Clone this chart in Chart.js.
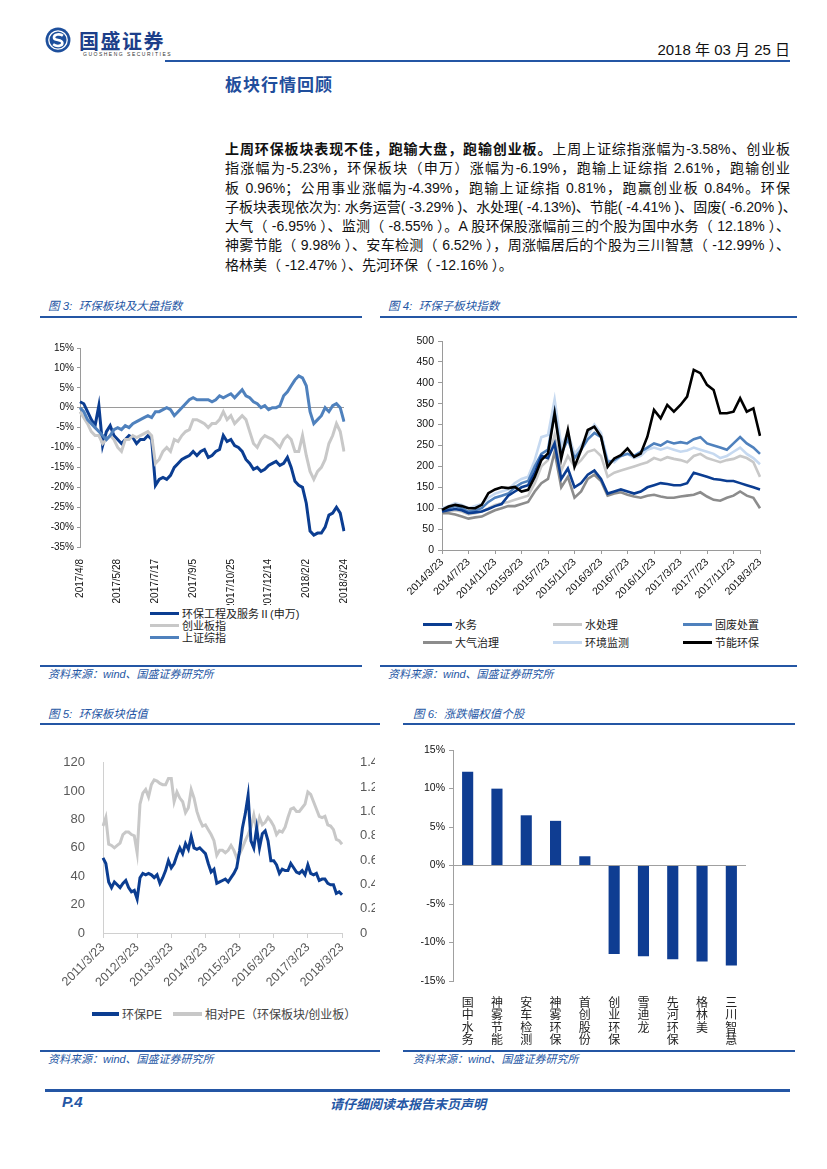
<!DOCTYPE html>
<html>
<head>
<meta charset="utf-8">
<script src="https://cdn.jsdelivr.net/npm/chart.js@4/dist/chart.umd.min.js"></script>
<style>
  body { margin: 0; background: #fff; font-family: "Liberation Sans", "Noto Sans CJK SC", sans-serif; }
  #page { position: relative; width: 827px; height: 1169px; overflow: hidden; }
  .abs { position: absolute; }
  .rule { position: absolute; height: 2px; background: #2456a4; }
  .cap { position: absolute; font-size: 11.5px; font-style: italic; color: #2456a4; white-space: nowrap; }
  .src { position: absolute; font-size: 11px; font-style: italic; color: #2456a4; white-space: nowrap; }
  .para { position: absolute; left: 225px; top: 140px; width: 565px; font-size: 14px; line-height: 19.3px; color: #111; }
  .para div { text-align: justify; text-align-last: justify; white-space: nowrap; }
  .para div.last { text-align-last: left; }
  .lg { position: absolute; font-size: 11px; color: #222; white-space: nowrap; display: flex; align-items: center; }
  .lg i { display: inline-block; width: 29px; height: 3px; margin-right: 3px; }
  .box { position: absolute; }
</style>
</head>
<body>
<div id="page">
  <!-- header -->
  <svg class="abs" style="left:45px;top:27px" width="26" height="26" viewBox="0 0 24 24">
    <circle cx="12" cy="12" r="11.5" fill="#1d4f9c"/>
    <circle cx="12" cy="12" r="8.5" fill="none" stroke="#fff" stroke-width="1.2"/>
    <path d="M16.5 8 C14 6 8 6.5 8.3 10 C8.6 13 15.6 11 16 14.5 C16.4 18 10.5 18.3 7.5 16" stroke="#fff" stroke-width="2.4" fill="none"/>
  </svg>
  <div class="abs" style="left:79px;top:26px;font-size:20px;font-weight:bold;color:#1d3f8a;letter-spacing:1.5px">国盛证券</div>
  <div class="abs" style="left:83px;top:51px;font-size:5px;color:#333;letter-spacing:1.5px">GUOSHENG SECURITIES</div>
  <div class="abs" style="right:37px;top:38px;font-size:15px;color:#111">2018 年 03 月 25 日</div>
  <div class="rule" style="left:165px;top:60px;width:625px"></div>
  <div class="abs" style="left:225px;top:71px;font-size:17px;font-weight:bold;color:#1f4e9c;letter-spacing:1px">板块行情回顾</div>

  <div class="para">
    <div><b>上周环保板块表现不佳，跑输大盘，跑输创业板。</b>上周上证综指涨幅为-3.58%、创业板</div>
    <div>指涨幅为-5.23%，环保板块（申万）涨幅为-6.19%，跑输上证综指 2.61%，跑输创业</div>
    <div>板 0.96%；公用事业涨幅为-4.39%，跑输上证综指 0.81%，跑赢创业板 0.84%。环保</div>
    <div>子板块表现依次为: 水务运营( -3.29% )、水处理( -4.13%)、节能( -4.41% )、固废( -6.20% )、</div>
    <div>大气（ -6.95% ）、监测（ -8.55% ）。A 股环保股涨幅前三的个股为国中水务（ 12.18% ）、</div>
    <div>神雾节能（ 9.98% ）、安车检测（ 6.52% ），周涨幅居后的个股为三川智慧（ -12.99% ）、</div>
    <div class="last">格林美（ -12.47% ）、先河环保（ -12.16% ）。</div>
  </div>

  <!-- fig 3 / fig 4 -->
  <div class="cap" style="left:48px;top:297px">图 3:&nbsp; 环保板块及大盘指数</div>
  <div class="rule" style="left:40px;top:316px;width:322px"></div>
  <div class="cap" style="left:388px;top:297px">图 4:&nbsp; 环保子板块指数</div>
  <div class="rule" style="left:380px;top:316px;width:417px"></div>

  <div class="box" style="left:40px;top:335px;width:320px;height:270px"><canvas id="c3"></canvas></div>
  <div class="box" style="left:385px;top:328px;width:395px;height:275px"><canvas id="c4"></canvas></div>

  <div class="lg" style="left:150px;top:605px"><i style="background:#0b3d91"></i>环保工程及服务Ⅱ(申万)</div>
  <div class="lg" style="left:150px;top:617px"><i style="background:#c8c8c8"></i>创业板指</div>
  <div class="lg" style="left:150px;top:629px"><i style="background:#4f81bd"></i>上证综指</div>

  <div class="lg" style="left:423px;top:616px"><i style="background:#0b3d91"></i>水务</div>
  <div class="lg" style="left:553px;top:616px"><i style="background:#c8c8c8"></i>水处理</div>
  <div class="lg" style="left:683px;top:616px"><i style="background:#4f81bd"></i>固废处置</div>
  <div class="lg" style="left:423px;top:634px"><i style="background:#8c8c8c"></i>大气治理</div>
  <div class="lg" style="left:553px;top:634px"><i style="background:#c6d9f0"></i>环境监测</div>
  <div class="lg" style="left:683px;top:634px"><i style="background:#000"></i>节能环保</div>

  <div class="rule" style="left:40px;top:665px;width:322px"></div>
  <div class="src" style="left:48px;top:665px">资料来源：wind、国盛证券研究所</div>
  <div class="rule" style="left:380px;top:665px;width:417px"></div>
  <div class="src" style="left:388px;top:665px">资料来源：wind、国盛证券研究所</div>

  <!-- fig 5 / fig 6 -->
  <div class="cap" style="left:48px;top:705px">图 5:&nbsp; 环保板块估值</div>
  <div class="rule" style="left:40px;top:723px;width:340px"></div>
  <div class="cap" style="left:413px;top:705px">图 6:&nbsp; 涨跌幅权值个股</div>
  <div class="rule" style="left:403px;top:723px;width:392px"></div>

  <div class="box" style="left:45px;top:745px;width:330px;height:255px"><canvas id="c5"></canvas></div>
  <div class="box" style="left:400px;top:735px;width:370px;height:310px"><canvas id="c6"></canvas></div>

  <div class="lg" style="left:92px;top:1005px;font-size:12px;color:#444"><i style="background:#0b3d91;width:27px;height:4px"></i>环保PE</div>
  <div class="lg" style="left:173px;top:1005px;font-size:12px;color:#444"><i style="background:#c8c8c8;width:29px;height:4px"></i>相对PE（环保板块/创业板）</div>

  <div class="rule" style="left:40px;top:1050px;width:340px"></div>
  <div class="src" style="left:48px;top:1050px">资料来源：wind、国盛证券研究所</div>
  <div class="rule" style="left:403px;top:1050px;width:392px"></div>
  <div class="src" style="left:413px;top:1050px">资料来源：wind、国盛证券研究所</div>

  <!-- footer -->
  <div class="rule" style="left:45px;top:1089px;width:745px;height:3px"></div>
  <div class="abs" style="left:62px;top:1093px;font-size:15px;font-weight:bold;font-style:italic;color:#2456a4">P.4</div>
  <div class="abs" style="left:330px;top:1094px;font-size:13px;font-weight:bold;font-style:italic;color:#2456a4">请仔细阅读本报告末页声明</div>
</div>

<script>
// ---- 图3 环保板块及大盘指数 (every ~5 days, 2017/4/8 - 2018/3/24)
const fig3Ticks = ['2017/4/8', '2017/5/28', '2017/7/17', '2017/9/5', '2017/10/25', '2017/12/14', '2018/2/2', '2018/3/24'];
const fig3Env = [1.5, 1, -1, -3, -4.5, 0.5, -9.5, -6, -4.5, -7, -8, -9, -8, -7, -7.5, -9, -8, -8, -7, -8,
  -19.5, -18, -17.5, -18, -17, -15, -14, -13, -12.5, -12, -11, -12, -11, -10.5, -12.5, -12, -11, -10.5, -7, -8.5,
  -8, -9.5, -10, -11, -13, -14, -15.5, -15, -16, -15.5, -14.5, -14, -13.5, -14.5, -14, -12.5, -15, -18.5, -19.5, -20,
  -24, -31, -32, -31.5, -31.5, -30, -27, -26.5, -25, -26.5, -31];
const fig3Cyb = [-1, -2.5, -4, -6, -7, -7, -9, -8, -7, -8, -10, -11, -8, -8, -7, -7.5, -7, -6.5, -6, -7,
  -14, -13, -11, -10, -11, -8, -8.5, -7, -6, -5.5, -3, -3, -3.5, -4, -5, -4, -4, -3, -1, -3,
  -2, -4, -3, -2, -3, -6, -9, -10, -8, -7, -7.5, -8, -9, -10, -8, -7, -8, -11, -11, -7,
  -12, -16, -18, -16, -15, -13, -9, -7, -4, -6, -11];
const fig3Sh = [0, -1, -3, -4, -5, -6, -7, -8, -7, -5.5, -5, -5.5, -4.5, -5, -4, -3.5, -3, -2.5, -2, -2.5,
  -1, -1, -0.5, 0, -0.5, -2, -1, 0, 1, 2, 2.5, 2, 2, 2, 2, 1.5, 2, 3, 2.5, 3,
  3.5, 2.5, 3.5, 4.5, 3, 2.5, 1.5, 1, 0, 0.5, -0.5, 0, 0, 0.5, 3, 4, 5.5, 7, 8, 7.5,
  5.5, -1, -4, -3, -2, 0, -1, 0.5, 1, 0, -3.5];

// ---- 图4 环保子板块指数 (monthly, 2014/3/23 - 2018/3/23)
const fig4Ticks = ['2014/3/23', '2014/7/23', '2014/11/23', '2015/3/23', '2015/7/23', '2015/11/23', '2016/3/23',
  '2016/7/23', '2016/11/23', '2017/3/23', '2017/7/23', '2017/11/23', '2018/3/23'];
const shuiwu = [92, 95, 98, 95, 88, 90, 92, 98, 105, 110, 130, 140, 150, 155, 185, 225, 220, 255, 170, 195, 150, 160, 180, 190, 170,
  135, 140, 145, 140, 135, 140, 150, 155, 160, 158, 155, 155, 160, 185, 180, 175, 170, 168, 165, 165, 160, 155, 150, 145];
const shuichuli = [90, 92, 95, 92, 85, 88, 92, 100, 108, 112, 115, 120, 125, 130, 160, 200, 215, 275, 190, 225, 200, 215, 235, 240, 225,
  175, 185, 190, 195, 200, 205, 210, 220, 215, 222, 218, 215, 210, 225, 230, 220, 215, 210, 215, 218, 225, 220, 210, 175];
const gufei = [95, 100, 105, 100, 92, 95, 100, 115, 125, 130, 135, 150, 160, 165, 200, 230, 240, 330, 230, 265, 220, 240, 265, 280, 270,
  210, 215, 225, 230, 225, 235, 245, 255, 250, 260, 255, 258, 255, 265, 270, 255, 250, 245, 240, 255, 270, 255, 245, 230];
const daqi = [88, 88, 85, 80, 75, 78, 80, 88, 95, 100, 105, 105, 110, 115, 140, 160, 170, 235, 150, 175, 125, 140, 170, 180, 165,
  130, 135, 138, 132, 128, 125, 130, 132, 128, 125, 125, 128, 130, 132, 138, 128, 120, 118, 125, 130, 140, 130, 125, 100];
const jiance = [100, 105, 112, 108, 100, 105, 110, 125, 135, 140, 145, 160, 170, 175, 215, 270, 275, 360, 250, 280, 230, 250, 275, 300, 280,
  215, 210, 225, 230, 220, 225, 240, 245, 240, 245, 240, 235, 238, 245, 240, 235, 230, 220, 225, 235, 245, 230, 220, 205];
const jieneng = [96, 104, 108, 105, 100, 100, 108, 136, 145, 150, 148, 151, 140, 144, 175, 215, 231, 327, 219, 287, 199, 239, 287, 295, 271,
  199, 219, 227, 243, 223, 231, 271, 335, 315, 347, 331, 347, 367, 431, 423, 395, 383, 327, 327, 331, 363, 331, 339, 273];

// ---- 图5 环保板块估值 (monthly, 2011/3/23 - 2018/3/23)
const fig5Ticks = ['2011/3/23', '2012/3/23', '2013/3/23', '2014/3/23', '2015/3/23', '2016/3/23', '2017/3/23', '2018/3/23'];
const envPE = [53, 49, 36, 32, 36, 34, 32, 35, 37, 32, 29, 30, 24, 39, 42, 41, 42, 41, 39, 41, 35, 39, 44, 51,
  46, 49, 55, 60, 56, 63, 59, 68, 60, 59, 60, 58, 56, 49, 43, 45, 35, 36, 37, 38, 36, 39, 42, 46,
  58, 74, 84, 97, 65, 60, 74, 60, 70, 72, 65, 51, 51, 48, 42, 45, 44, 44, 49, 46, 43, 42, 44, 41,
  48, 42, 41, 42, 37, 38, 38, 35, 34, 34, 28, 29, 27];
const relPE = [0.88, 0.95, 0.73, 0.72, 0.70, 0.72, 0.74, 0.81, 0.83, 0.83, 0.81, 0.80, 0.66, 1.06, 1.15, 1.18, 1.12, 1.22, 1.26, 1.25, 1.23, 1.22, 1.22, 1.27,
  1.27, 1.08, 1.16, 1.11, 1.08, 0.99, 1.03, 1.18, 1.11, 1.00, 0.93, 0.88, 0.89, 0.85, 0.81, 0.76, 0.64, 0.68, 0.68, 0.66, 0.68, 0.72, 0.68, 0.62,
  0.65, 0.70, 0.76, 0.81, 0.87, 0.97, 0.85, 0.95, 0.89, 0.91, 0.95, 0.92, 0.88, 0.81, 0.84, 0.83, 0.87, 0.95, 1.02, 1.03, 1.00, 1.00, 1.03, 1.06,
  1.16, 1.14, 1.08, 1.02, 0.96, 0.95, 0.96, 0.89, 0.88, 0.85, 0.77, 0.76, 0.73];

// ---- 图6 涨跌幅权值个股
const stocks = ['国中水务', '神雾节能', '安车检测', '神雾环保', '首创股份', '创业环保', '雪迪龙', '先河环保', '格林美', '三川智慧'];
const stockChg = [12.18, 9.98, 6.52, 5.8, 1.2, -11.5, -11.8, -12.16, -12.47, -12.99];

Chart.defaults.font.family = '"Liberation Sans", "Noto Sans CJK SC", sans-serif';
Chart.defaults.color = '#111';
Chart.defaults.animation = false;

const idx = n => Array.from({ length: n }, (_, i) => i);
const lineDs = (label, data, color, width, yAxisID) => ({
  label, data, borderColor: color, backgroundColor: color, borderWidth: width,
  pointRadius: 0, tension: 0, fill: false, yAxisID: yAxisID || 'y'
});
const noLegend = { legend: { display: false }, tooltip: { enabled: false } };

// fig 3
new Chart(document.getElementById('c3'), {
  type: 'line',
  data: {
    labels: idx(fig3Env.length),
    datasets: [
      lineDs('上证综指', fig3Sh, '#4f81bd', 3),
      lineDs('创业板指', fig3Cyb, '#c8c8c8', 3),
      lineDs('环保工程及服务Ⅱ(申万)', fig3Env, '#0b3d91', 3)
    ]
  },
  options: {
    responsive: true, maintainAspectRatio: false,
    layout: { padding: { top: 13, right: 16, left: 0, bottom: 0 } },
    plugins: noLegend,
    scales: {
      x: {
        grid: { display: false }, border: { display: false },
        ticks: {
          autoSkip: false, maxRotation: 90, minRotation: 90, font: { size: 10 }, padding: 4,
          callback: (v, i) => i % 10 === 0 ? fig3Ticks[i / 10] : null
        },
        afterFit: s => { s.height = 58 }
      },
      y: {
        min: -35, max: 15,
        ticks: { stepSize: 5, font: { size: 10 }, callback: v => v + '%', padding: 3 },
        grid: {
          color: c => c.tick && c.tick.value === 0 ? '#9a9a9a' : 'transparent',
          tickColor: '#9a9a9a', tickLength: 3, lineWidth: 1
        },
        border: { display: true, color: '#9a9a9a' },
        afterFit: s => { s.width = 40 }
      }
    }
  }
});

// fig 4
new Chart(document.getElementById('c4'), {
  type: 'line',
  data: {
    labels: idx(jieneng.length),
    datasets: [
      lineDs('节能环保', jieneng, '#000000', 2.6),
      lineDs('水务', shuiwu, '#0b3d91', 2.6),
      lineDs('大气治理', daqi, '#8c8c8c', 2.6),
      lineDs('固废处置', gufei, '#4f81bd', 2.6),
      lineDs('环境监测', jiance, '#c6d9f0', 2.6),
      lineDs('水处理', shuichuli, '#c8c8c8', 2.6)
    ]
  },
  options: {
    responsive: true, maintainAspectRatio: false,
    layout: { padding: { top: 13, right: 20, left: 0, bottom: 0 } },
    plugins: noLegend,
    scales: {
      x: {
        grid: { display: true, drawOnChartArea: false, color: '#9a9a9a', tickLength: 4 },
        border: { display: true, color: '#9a9a9a' },
        ticks: {
          autoSkip: false, maxRotation: 45, minRotation: 45, font: { size: 10.5 }, padding: 2,
          callback: (v, i) => i % 4 === 0 ? fig4Ticks[i / 4] : null
        },
        afterFit: s => { s.height = 53 }
      },
      y: {
        min: 0, max: 500,
        ticks: { stepSize: 50, font: { size: 10.5 }, padding: 4 },
        grid: { drawOnChartArea: false, color: '#9a9a9a', tickLength: 4 },
        border: { display: true, color: '#9a9a9a' },
        afterFit: s => { s.width = 57 }
      }
    }
  }
});

// fig 5
new Chart(document.getElementById('c5'), {
  type: 'line',
  data: {
    labels: idx(envPE.length),
    datasets: [
      lineDs('环保PE', envPE, '#0b3d91', 3, 'y'),
      lineDs('相对PE（环保板块/创业板）', relPE, '#c8c8c8', 3, 'y1')
    ]
  },
  options: {
    responsive: true, maintainAspectRatio: false,
    layout: { padding: { top: 16, right: 0, left: 0, bottom: 0 } },
    plugins: noLegend,
    scales: {
      x: {
        grid: { display: true, drawOnChartArea: false, color: '#d0d0d0', tickLength: 5 },
        border: { display: true, color: '#d0d0d0' },
        ticks: {
          autoSkip: false, maxRotation: 45, minRotation: 45, font: { size: 12.5 }, color: '#595959', padding: 2,
          callback: (v, i) => i % 12 === 0 ? fig5Ticks[i / 12] : null
        },
        afterFit: s => { s.height = 67 }
      },
      y: {
        position: 'left', min: 0, max: 120,
        ticks: { stepSize: 20, font: { size: 13 }, color: '#595959', padding: 10 },
        grid: { display: false },
        border: { display: true, color: '#d0d0d0' },
        afterFit: s => { s.width = 58 }
      },
      y1: {
        position: 'right', min: 0, max: 1.4,
        ticks: { stepSize: 0.2, font: { size: 13 }, color: '#595959', padding: 10 },
        grid: { display: false },
        border: { display: false },
        afterFit: s => { s.width = 33 }
      }
    }
  }
});

// fig 6
new Chart(document.getElementById('c6'), {
  type: 'bar',
  data: {
    labels: stocks.map(s => s.split('')),
    datasets: [{ label: '涨跌幅', data: stockChg, backgroundColor: '#0f3d92', categoryPercentage: 1, barPercentage: 0.38 }]
  },
  options: {
    responsive: true, maintainAspectRatio: false,
    layout: { padding: { top: 15, right: 24, left: 0, bottom: 0 } },
    plugins: noLegend,
    scales: {
      x: {
        grid: { display: false }, border: { display: false },
        ticks: { autoSkip: false, maxRotation: 0, font: { size: 12, lineHeight: 1.05 }, color: '#222', padding: 8 },
        afterFit: s => { s.height = 64 }
      },
      y: {
        min: -15, max: 15,
        ticks: { stepSize: 5, font: { size: 10.5 }, callback: v => v + '%', padding: 4 },
        grid: {
          color: c => c.tick && c.tick.value === 0 ? '#a0a0a0' : 'transparent',
          tickColor: '#a0a0a0', tickLength: 4
        },
        border: { display: true, color: '#a0a0a0' },
        afterFit: s => { s.width = 53 }
      }
    }
  }
});
</script>
</body>
</html>
